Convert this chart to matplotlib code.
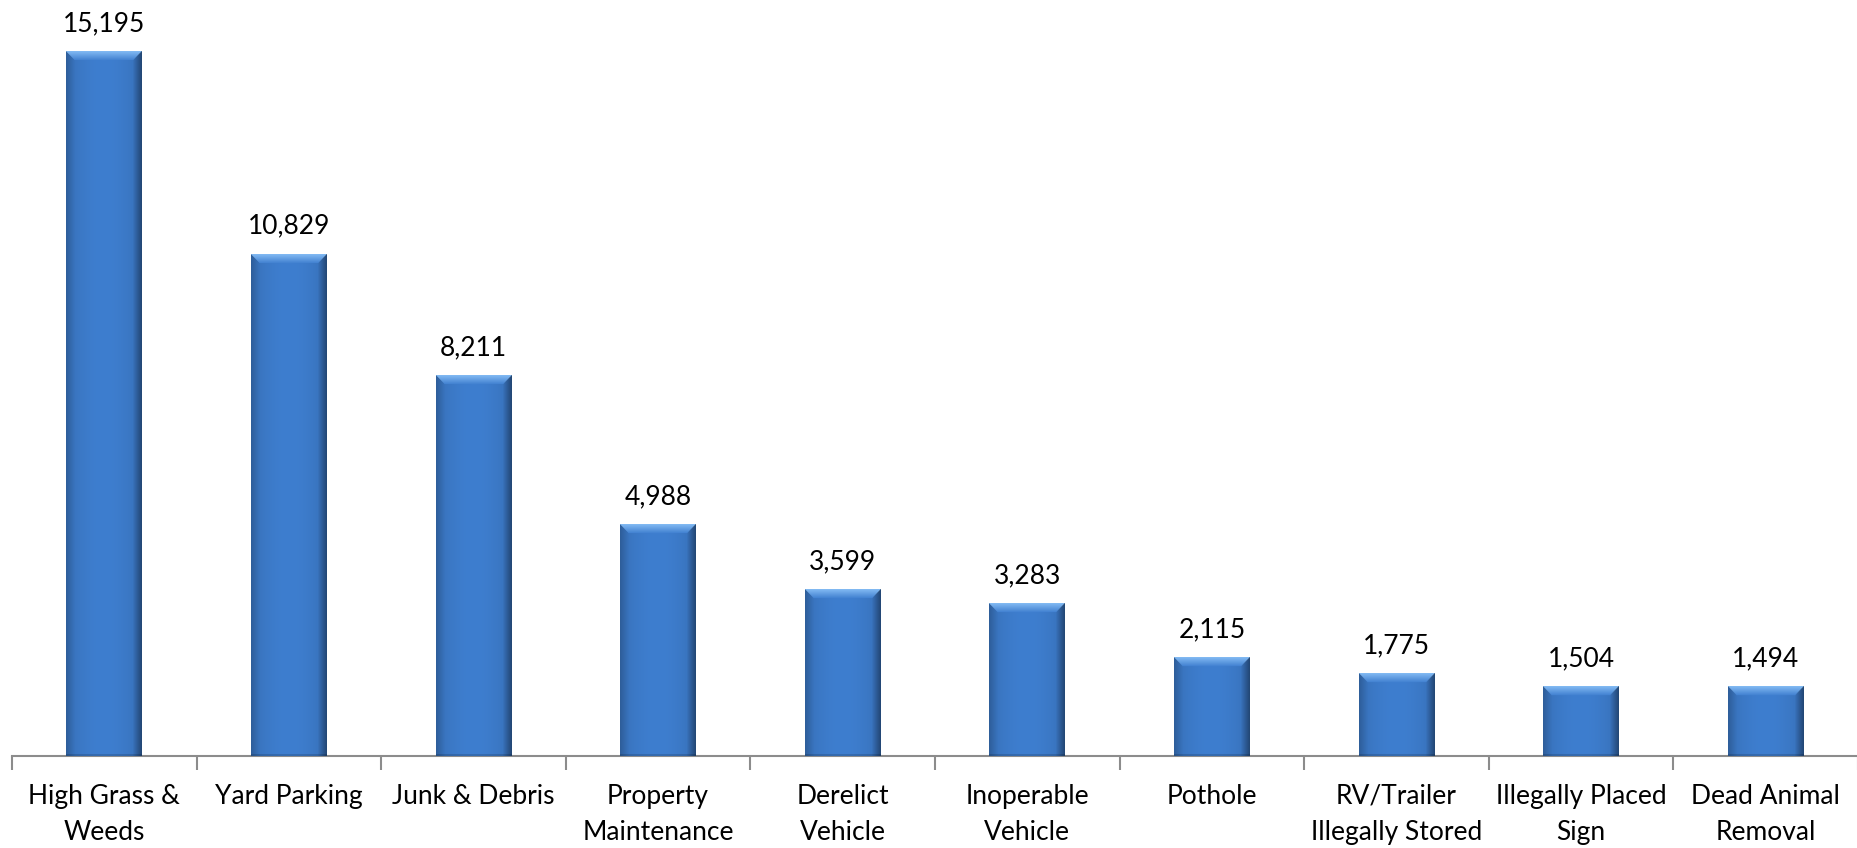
import matplotlib
matplotlib.use("agg")
import matplotlib.pyplot as plt
import numpy as np

categories = ["High Grass &\nWeeds", "Yard Parking", "Junk & Debris", "Property\nMaintenance",
              "Derelict\nVehicle", "Inoperable\nVehicle", "Pothole", "RV/Trailer\nIllegally Stored",
              "Illegally Placed\nSign", "Dead Animal\nRemoval"]
counts = [15195, 10829, 8211, 4988, 3599, 3283, 2115, 1775, 1504, 1494]

plt.rcParams["font.family"] = ["Lato", "DejaVu Sans"]

fig = plt.figure(figsize=(18.58, 8.48), dpi=100)
ax = fig.add_axes([12 / 1858, 1 - 756 / 848, 1 - 12 / 1858, 756 / 848])

x = np.arange(len(counts))
bars = ax.bar(x, counts, width=0.41, color="#3d7dcc", zorder=2)

# bevelled look: one small image per bar
ppu = 756 / 16310
for b in bars:
    x0 = b.get_x()
    w = b.get_width()
    h = b.get_height()
    rows = max(int(h * ppu), 2)
    cols = 76
    base = np.array([0x3e, 0x7e, 0xcf]) / 255.0
    img = np.ones((rows, cols, 3)) * base
    t = np.linspace(0, 1, cols)
    shade = 1.0 - 0.12 * (np.abs(t - 0.5) * 2) ** 2
    img *= shade[None, :, None]
    bev = 9
    light = np.array([0x80, 0xb8, 0xf2]) / 255.0
    for r in range(min(bev, rows)):
        f = 1 - r / bev
        c = light * f + base * (1 - f)
        img[r, r:cols - r] = c
    for c in range(bev):
        f = 1 - c / bev
        img[c:, c] = img[c:, c] * (1 - 0.15 * f)
        img[c:, cols - 1 - c] = img[c:, cols - 1 - c] * (1 - 0.35 * f)
    img[-2:, :] *= 0.85
    ax.imshow(np.clip(img, 0, 1), extent=(x0, x0 + w, 0, h), aspect="auto", zorder=3,
              interpolation="bilinear")
    ax.annotate("{:,}".format(int(h)), (x0 + w / 2, h), xytext=(0, 11), textcoords="offset points",
                ha="center", va="bottom", fontsize=19, color="black")

ax.set_xlim(-0.5, len(counts) - 0.5)
ax.set_ylim(0, 16310)

for s in ["top", "right", "left"]:
    ax.spines[s].set_visible(False)
ax.spines["bottom"].set_color("#8c8c8c")
ax.spines["bottom"].set_linewidth(1.5)
ax.set_yticks([])
ax.set_xticks(np.arange(-0.5, len(counts), 1.0))
ax.set_xticklabels([])
ax.set_xticks(x, minor=True)
ax.set_xticklabels(categories, minor=True, fontsize=19, linespacing=1.55)
ax.tick_params(axis="x", which="major", length=10, width=1.5, color="#8c8c8c", direction="out")
ax.tick_params(axis="x", which="minor", length=0, pad=20)

fig.savefig("out.png", dpi=100)
